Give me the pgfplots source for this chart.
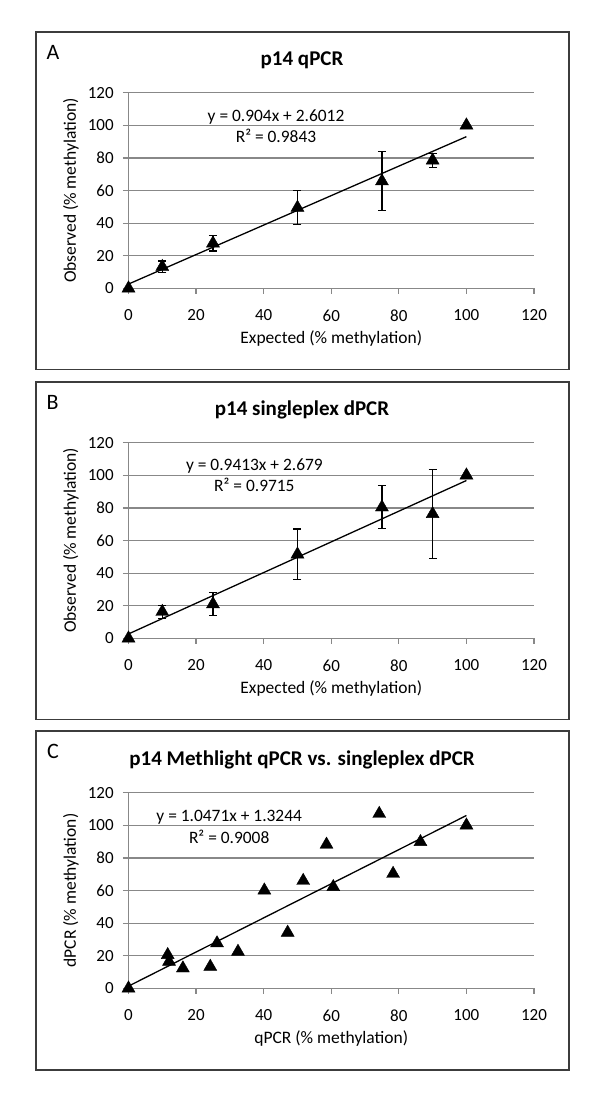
\documentclass[border=0pt]{standalone}
\usepackage{fontspec}
\setmainfont{Carlito}
\usepackage{pgfplots}
\pgfplotsset{compat=1.18}
\definecolor{gridgray}{HTML}{888888}
\definecolor{boxgray}{HTML}{3C3C3C}
\newcommand{\fs}[1]{\fontsize{#1}{#1}\selectfont}
\pgfplotsset{
  excel/.style={
    scale only axis, width=405.5pt, height=195.6pt,
    anchor=south west,
    xmin=0,xmax=120,ymin=0,ymax=120,
    xtick={0,20,...,120}, ytick={0,20,...,120},
    axis x line*=bottom, axis y line*=left,
    axis line style={gridgray, line width=1.2pt, -},
    ymajorgrids, grid style={gridgray, line width=1.2pt},
    tick align=outside, major tick length=5.5pt,
    tick style={gridgray, line width=1.2pt},
    ticklabel style={font=\fs{17}, text=black},
    /pgf/number format/assume math mode=true,
    xticklabel shift=12.5pt, yticklabel shift=5.8pt,
    label style={font=\fs{17.5}},
    x label style={at={(axis description cs:0.5,-0.2812)}, anchor=base, inner sep=0pt},
    y label style={at={(axis description cs:-0.1418,0.5)}, anchor=center},
    clip=false,
  },
  pts/.style={only marks, mark=triangle*, mark size=7.5pt, black},
  ebars/.style={only marks, mark=triangle*, mark size=7.5pt, black,
    error bars/.cd, y dir=both, y explicit,
    error bar style={black, line width=1.2pt},
    error mark=-,
    error mark options={black, mark size=4pt, line width=1.2pt, rotate=90}},
  trend/.style={black, line width=1.3pt, no marks},
}
\begin{document}
\begin{tikzpicture}
\fill[white] (0pt,0pt) rectangle (600pt,-1100pt);
\useasboundingbox (0pt,0pt) rectangle (600pt,-1100pt);
% boxes
\draw[boxgray, line width=1.6pt] (35.8pt,-31.7pt) rectangle (569pt,-369.3pt);
\draw[boxgray, line width=1.6pt] (35.8pt,-381.7pt) rectangle (569pt,-719.3pt);
\draw[boxgray, line width=1.6pt] (35.8pt,-731pt) rectangle (569pt,-1070pt);
% panel letters
\node[anchor=base west, font=\fs{22}, inner sep=0pt] at (46.5pt,-59.3pt) {A};
\node[anchor=base west, font=\fs{22}, inner sep=0pt] at (46.5pt,-409pt) {B};
\node[anchor=base west, font=\fs{22}, inner sep=0pt] at (47pt,-758.5pt) {C};
% titles
\node[anchor=base, font=\fs{21}\bfseries, inner sep=0pt] at (302pt,-65pt) {p14 qPCR};
\node[anchor=base, font=\fs{21}\bfseries, inner sep=0pt] at (302pt,-415pt) {p14 singleplex dPCR};
\node[anchor=base, font=\fs{21}\bfseries, inner sep=0pt] at (302pt,-765pt) {p14 Methlight qPCR vs. singleplex dPCR};

% Panel A
\begin{axis}[excel, at={(128.5pt,-288.3pt)},
  xlabel={Expected (\% methylation)}, ylabel={Observed (\% methylation)}]
\addplot[trend] coordinates {(0,2.6012) (100,93.0412)};
\addplot[ebars] coordinates {
  (10,13.2) +- (0,3.5)
  (25,27.6) +- (0,4.7)
  (50,49.5) +- (0,10.3)
  (75,65.7) +- (0,18.1)
  (90,78.5) +- (0,4.3)
};
\addplot[pts] coordinates {(0,0) (100,100)};
\end{axis}
\node[anchor=base, font=\fs{17.4}, inner sep=0pt] at (276pt,-121.7pt) {y = 0.904x + 2.6012};
\node[anchor=base, font=\fs{17.4}, inner sep=0pt] at (276pt,-142.7pt) {R² = 0.9843};

% Panel B
\begin{axis}[excel, at={(128.5pt,-638.3pt)},
  xlabel={Expected (\% methylation)}, ylabel={Observed (\% methylation)}]
\addplot[trend] coordinates {(0,2.679) (100,96.809)};
\addplot[ebars] coordinates {
  (10,16.3) +- (0,4)
  (25,21.0) +- (0,7)
  (50,51.5) +- (0,15.5)
  (75,80.4) +- (0,13.2)
  (90,76.3) +- (0,27.4)
};
\addplot[pts] coordinates {(0,0) (100,100)};
\end{axis}
\node[anchor=base, font=\fs{17.4}, inner sep=0pt] at (254.4pt,-470pt) {y = 0.9413x + 2.679};
\node[anchor=base, font=\fs{17.4}, inner sep=0pt] at (254.4pt,-491.7pt) {R² = 0.9715};

% Panel C
\begin{axis}[excel, at={(128.5pt,-988.3pt)},
  xlabel={qPCR (\% methylation)}, ylabel={dPCR (\% methylation)}]
\addplot[trend] coordinates {(0,1.3244) (100,106.0344)};
\addplot[pts] coordinates {
  (0,0) (11.6,20.5) (12,16.4) (16.1,12.3) (24.2,13.3) (26.2,27.7)
  (32.4,22.5) (40.2,60.1) (47.1,34.2) (51.7,66) (58.6,88.2)
  (60.6,62.2) (74.2,107.1) (78.3,70.3) (86.4,89.8) (100,100)
};
\end{axis}
\node[anchor=base, font=\fs{17.4}, inner sep=0pt] at (229.2pt,-821pt) {y = 1.0471x + 1.3244};
\node[anchor=base, font=\fs{17.4}, inner sep=0pt] at (229.2pt,-843.3pt) {R² = 0.9008};
\end{tikzpicture}
\end{document}
